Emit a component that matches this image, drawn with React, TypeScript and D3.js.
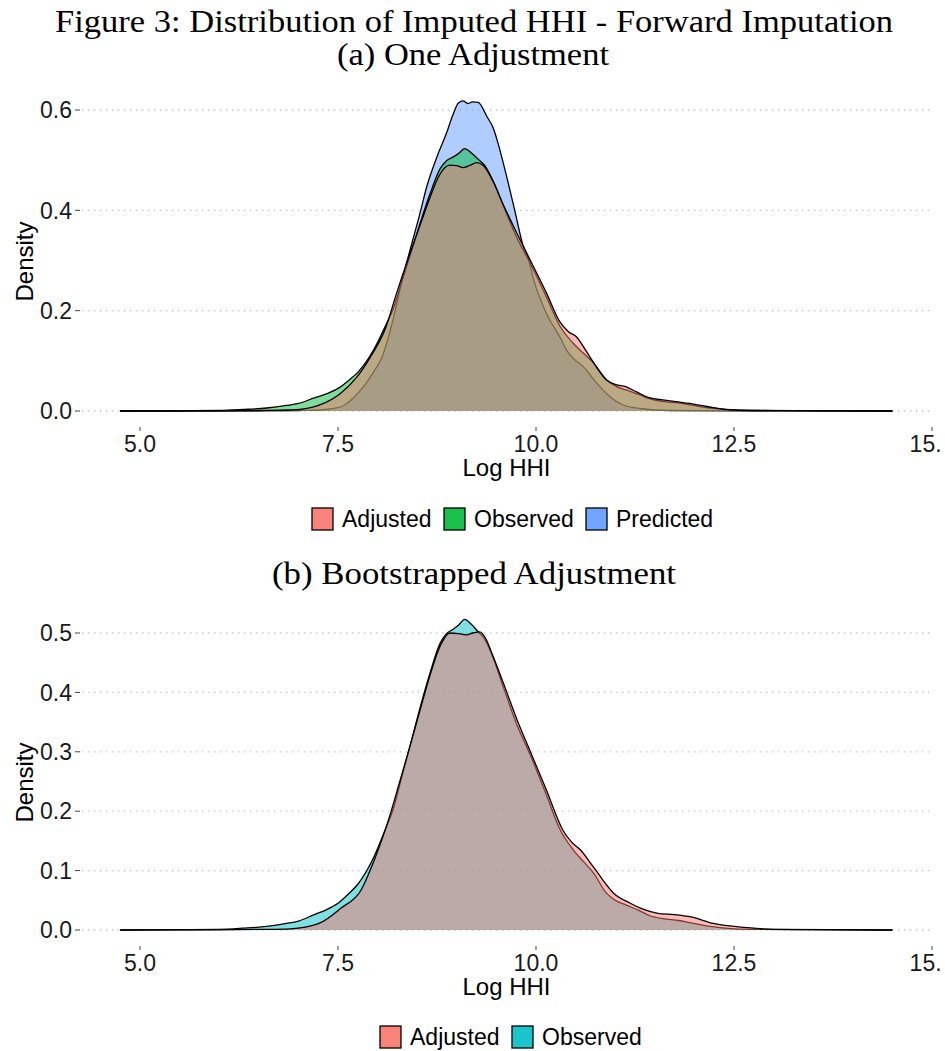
import React from 'react';
import * as d3 from 'd3';

// ---------- data ----------
const xTickValues = [5, 7.5, 10, 12.5, 15];
const xTickLabels = ['5.0', '7.5', '10.0', '12.5', '15.0'];
const yTicksA = [0, 0.2, 0.4, 0.6];
const yTicksB = [0, 0.1, 0.2, 0.3, 0.4, 0.5];

// Observed (same sample in both panels)
const observedX = [4.75, 5.5, 6.0, 6.3, 6.6, 6.85, 7.0, 7.2, 7.35, 7.5, 7.65, 7.75, 7.95, 8.1, 8.2, 8.3, 8.42, 8.54, 8.66, 8.79, 8.87, 8.95, 9.02, 9.1, 9.18, 9.27, 9.35, 9.46, 9.59, 9.76, 9.92, 10.13, 10.3, 10.47, 10.6, 10.72, 10.89, 11.0, 11.14, 11.3, 11.44, 11.6, 11.8, 11.96, 12.2, 12.5, 12.8, 13.5, 14.5];
const observedD = [0, 0.0005, 0.001, 0.003, 0.006, 0.011, 0.015, 0.026, 0.034, 0.045, 0.063, 0.077, 0.122, 0.17, 0.205, 0.255, 0.315, 0.376, 0.432, 0.483, 0.499, 0.506, 0.513, 0.523, 0.515, 0.502, 0.49, 0.458, 0.408, 0.345, 0.297, 0.228, 0.17, 0.135, 0.115, 0.097, 0.062, 0.05, 0.042, 0.033, 0.024, 0.019, 0.016, 0.012, 0.006, 0.002, 0.001, 0.0005, 0];

// Panel (a) Adjusted
const adjustedAX = [4.75, 6.0, 6.5, 6.9, 7.02, 7.27, 7.53, 7.74, 7.91, 8.1, 8.24, 8.4, 8.54, 8.66, 8.78, 8.91, 9.0, 9.08, 9.17, 9.25, 9.33, 9.46, 9.59, 9.76, 9.92, 10.13, 10.3, 10.41, 10.51, 10.6, 10.68, 10.89, 11.0, 11.14, 11.27, 11.44, 11.6, 11.8, 11.94, 12.16, 12.49, 13.0, 14.5];
const adjustedAD = [0, 0.0003, 0.001, 0.002, 0.003, 0.012, 0.035, 0.068, 0.108, 0.165, 0.235, 0.31, 0.372, 0.425, 0.47, 0.49, 0.489, 0.485, 0.49, 0.495, 0.49, 0.457, 0.41, 0.354, 0.303, 0.236, 0.178, 0.158, 0.148, 0.128, 0.108, 0.062, 0.053, 0.048, 0.038, 0.026, 0.022, 0.018, 0.015, 0.009, 0.002, 0.0008, 0];

// Panel (a) Predicted
const predictedX = [4.75, 6.5, 7.0, 7.27, 7.4, 7.56, 7.7, 7.82, 7.95, 8.05, 8.2, 8.3, 8.41, 8.535, 8.62, 8.75, 8.87, 8.95, 9.02, 9.08, 9.14, 9.2, 9.27, 9.38, 9.46, 9.52, 9.63, 9.73, 9.84, 9.9, 9.97, 10.13, 10.3, 10.4, 10.47, 10.6, 10.77, 10.93, 11.1, 11.31, 11.7, 12.5, 14.5];
const predictedD = [0, 0.0002, 0.001, 0.002, 0.004, 0.01, 0.027, 0.048, 0.078, 0.105, 0.185, 0.255, 0.321, 0.394, 0.447, 0.507, 0.554, 0.59, 0.614, 0.618, 0.613, 0.616, 0.615, 0.587, 0.564, 0.534, 0.467, 0.401, 0.328, 0.305, 0.262, 0.195, 0.148, 0.118, 0.105, 0.088, 0.055, 0.029, 0.012, 0.005, 0.001, 0.0002, 0];

// Panel (b) Adjusted (bootstrapped)
const adjustedBX = [4.75, 6.0, 6.5, 6.9, 7.26, 7.54, 7.79, 7.95, 8.16, 8.28, 8.41, 8.54, 8.66, 8.79, 8.91, 9.02, 9.12, 9.2, 9.29, 9.36, 9.46, 9.59, 9.76, 9.92, 10.13, 10.34, 10.45, 10.56, 10.72, 10.98, 11.19, 11.35, 11.54, 11.75, 11.96, 12.24, 12.66, 13.0, 14.5];
const adjustedBD = [0, 0.0003, 0.001, 0.002, 0.011, 0.037, 0.067, 0.115, 0.195, 0.25, 0.31, 0.372, 0.428, 0.478, 0.5, 0.499, 0.497, 0.5, 0.502, 0.492, 0.46, 0.415, 0.354, 0.303, 0.236, 0.168, 0.148, 0.135, 0.107, 0.062, 0.045, 0.035, 0.028, 0.026, 0.022, 0.011, 0.004, 0.001, 0];

const seriesColors = { adjusted: '#F8766D', observed: '#00BA38', predicted: '#619CFF', observedB: '#00BFC4' };

const legendA = ['Adjusted', 'Observed', 'Predicted'];
const legendB = ['Adjusted', 'Observed'];

// ---------- layout ----------
const W = 945;
const H = 1051;
const x = d3.scaleLinear().domain([5, 15]).range([140, 932]);
const panelLeft = 82;
const panelRight = 931;

const FONT = "'Liberation Sans', Arial, Helvetica, sans-serif";
const SERIF = "'Liberation Serif', 'DejaVu Serif', 'Times New Roman', serif";

type Series = { xs: number[]; ds: number[]; color: string };

function Panel({ y, ticks, series, legend, legendColors, legendY, legendStart }: {
  y: d3.ScaleLinear<number, number>; ticks: number[]; series: Series[];
  legend: string[]; legendColors: string[]; legendY: number; legendStart: number;
}) {
  const y0 = y(0);
  const area = d3.area<[number, number]>().x(d => x(d[0])).y0(y0).y1(d => y(d[1])).curve(d3.curveMonotoneX);
  const line = d3.line<[number, number]>().x(d => x(d[0])).y(d => y(d[1])).curve(d3.curveMonotoneX);
  const tickLabelY = y0 + 41;
  const axisTitleY = y0 + 65;
  const midY = (y(0) + y(ticks[ticks.length - 1])) / 2 + 1;
  // legend layout
  const keyW = 21;
  const textWidths = legend.map(l => (l === 'Adjusted' ? 90 : l === 'Observed' ? 100 : 97));
  let cursor = legendStart;
  const items = legend.map((l, i) => {
    const item = { label: l, color: legendColors[i], kx: cursor, tx: cursor + keyW + 9 };
    cursor = item.tx + textWidths[i] + 12;
    return item;
  });
  return (
    <g>
      {ticks.map(t => (
        <g key={t}>
          <line x1={panelLeft} x2={panelRight} y1={y(t)} y2={y(t)} stroke="#C4C4C4" strokeWidth={1.3} strokeDasharray="1.3 4.7" />
          <line x1={75} x2={80} y1={y(t)} y2={y(t)} stroke="#444" strokeWidth={1} />
          <text x={72} y={y(t)} dy="0.36em" textAnchor="end" fontFamily={FONT} fontSize={23} fill="#1a1a1a">{t.toFixed(1)}</text>
        </g>
      ))}
      {series.map((s, i) => {
        const pts: [number, number][] = s.xs.map((v, j) => [v, s.ds[j]]);
        return (
          <g key={i}>
            <path d={area(pts) || ''} fill={s.color} fillOpacity={0.5} stroke="none" />
            <path d={line(pts) || ''} fill="none" stroke="#000" strokeWidth={1.3} />
          </g>
        );
      })}
      <g clipPath="url(#pageClip)">
        {xTickValues.map((v, i) => (
          <g key={v}>
            <line x1={x(v)} x2={x(v)} y1={y0 + 16} y2={y0 + 20} stroke="#444" strokeWidth={1} />
            <text x={x(v)} y={tickLabelY} textAnchor="middle" fontFamily={FONT} fontSize={23} fill="#1a1a1a">{xTickLabels[i]}</text>
          </g>
        ))}
      </g>
      <text x={(panelLeft + panelRight) / 2} y={axisTitleY} textAnchor="middle" fontFamily={FONT} fontSize={24} fill="#000">Log HHI</text>
      <text transform={`translate(33,${midY}) rotate(-90)`} textAnchor="middle" fontFamily={FONT} fontSize={24} fill="#000">Density</text>
      {items.map(it => (
        <g key={it.label}>
          <rect x={it.kx} y={legendY - 11} width={keyW} height={22} fill={it.color} fillOpacity={0.9} stroke="#000" strokeWidth={1.3} />
          <text x={it.tx} y={legendY + 8} fontFamily={FONT} fontSize={23} fill="#000">{it.label}</text>
        </g>
      ))}
    </g>
  );
}

export default function App() {
  const yA = d3.scaleLinear().domain([0, 0.6]).range([411, 110]);
  const yB = d3.scaleLinear().domain([0, 0.5]).range([930, 633]);
  const seriesA: Series[] = [
    { xs: predictedX, ds: predictedD, color: seriesColors.predicted },
    { xs: observedX, ds: observedD, color: seriesColors.observed },
    { xs: adjustedAX, ds: adjustedAD, color: seriesColors.adjusted },
  ];
  const seriesB: Series[] = [
    { xs: observedX, ds: observedD, color: seriesColors.observedB },
    { xs: adjustedBX, ds: adjustedBD, color: seriesColors.adjusted },
  ];
  return (
    <svg width={W} height={H} style={{ position: 'absolute', left: 0, top: 0, background: '#fff' }}>
      <defs>
        <clipPath id="pageClip"><rect x={0} y={0} width={941} height={H} /></clipPath>
      </defs>
      <rect x={0} y={0} width={W} height={H} fill="#fff" />
      <text x={474} y={32} textAnchor="middle" fontFamily={SERIF} fontSize={31} textLength={838} lengthAdjust="spacingAndGlyphs">Figure 3: Distribution of Imputed HHI - Forward Imputation</text>
      <text x={473} y={65} textAnchor="middle" fontFamily={SERIF} fontSize={31} textLength={272} lengthAdjust="spacingAndGlyphs">(a) One Adjustment</text>
      <text x={474} y={584} textAnchor="middle" fontFamily={SERIF} fontSize={31} textLength={404} lengthAdjust="spacingAndGlyphs">(b) Bootstrapped Adjustment</text>
      <Panel y={yA} ticks={yTicksA} series={seriesA} legend={legendA}
        legendColors={[seriesColors.adjusted, seriesColors.observed, seriesColors.predicted]} legendY={519} legendStart={312} />
      <Panel y={yB} ticks={yTicksB} series={seriesB} legend={legendB}
        legendColors={[seriesColors.adjusted, seriesColors.observedB]} legendY={1037} legendStart={380} />
    </svg>
  );
}
